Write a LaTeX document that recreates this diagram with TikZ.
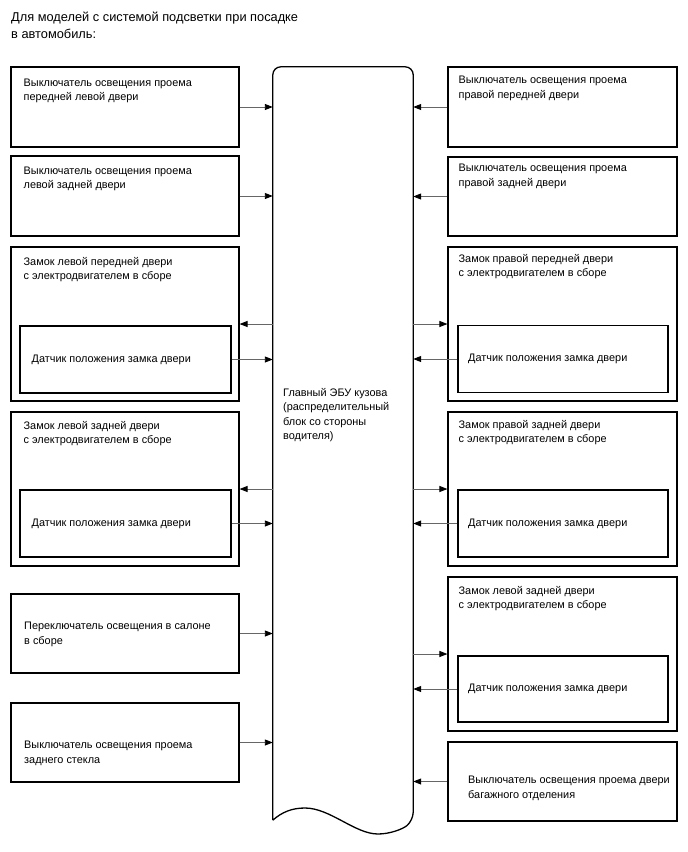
\documentclass[tikz,border=0pt]{standalone}
\usepackage{fontspec}
\setmainfont{Liberation Sans}
\usetikzlibrary{positioning, arrows.meta}

\begin{document}
\begin{tikzpicture}[
    x=1pt, y=-1pt,
    blk/.style={draw, line width=1.1pt, inner sep=0pt, minimum width=228pt},
    sens/.style={blk, minimum width=211pt, minimum height=67pt},
    txt/.style={inner sep=0pt, align=left, font=\fontsize{10.9}{14.5}\selectfont},
    eculine/.style={line width=1.3pt},
    arr/.style={draw=black!60, line width=0.9pt, -{Triangle[length=8pt, width=6pt, black]}},
  ]
    \useasboundingbox (0,0) rectangle (688,852);

    \node[txt, anchor=north west, font=\fontsize{12.8}{17}\selectfont] (title) at (11,12)
      {Для моделей с системой подсветки при посадке\\в автомобиль:};

    % ECU
    \node[minimum width=140pt, minimum height=753pt, inner sep=0pt] (ecu) at (343,443.5) {};
    \draw[eculine] (ecu.south west) [rounded corners=8pt] -- (ecu.north west) -- (ecu.north east)
      -- (ecu.south east) [sharp corners]
      .. controls (403,829) and (390,834) .. (378,834)
      .. controls (355,834) and (330,808) .. (305,808)
      .. controls (292,808) and (282,812) .. (ecu.south west);
    \node[txt, anchor=north west] (ecutxt) at (283,388)
      {Главный ЭБУ кузова\\(распределительный\\блок со стороны\\водителя)};

    % left column
    \node[blk, minimum height=80pt]  (l1)  at (125,107) {};
    \node[blk, minimum height=80pt]  (l2)  at (125,196) {};
    \node[blk, minimum height=154pt] (l3)  at (125,324) {};
    \node[sens]                      (l3s) at (125.5,359.5) {};
    \node[blk, minimum height=154pt] (l4)  at (125,489) {};
    \node[sens]                      (l4s) at (125.5,523.5) {};
    \node[blk, minimum height=79pt]  (l5)  at (125,633.5) {};
    \node[blk, minimum height=79pt]  (l6)  at (125,742.5) {};

    \node[txt, below right=12pt and 13pt of l1.north west] (l1t)
      {Выключатель освещения проема\\передней левой двери};
    \node[txt, below right=11pt and 13pt of l2.north west] (l2t)
      {Выключатель освещения проема\\левой задней двери};
    \node[txt, below right=10.5pt and 13pt of l3.north west] (l3t)
      {Замок левой передней двери\\с электродвигателем в сборе};
    \node[txt, right=12pt of l3s.west] (l3st) {Датчик положения замка двери};
    \node[txt, below right=9.5pt and 13pt of l4.north west] (l4t)
      {Замок левой задней двери\\с электродвигателем в сборе};
    \node[txt, right=12pt of l4s.west] (l4st) {Датчик положения замка двери};
    \node[txt, anchor=north west] (l5t) at (24,622)
      {Переключатель освещения в салоне\\в сборе};
    \node[txt, anchor=north west] (l6t) at (24,741)
      {Выключатель освещения проема\\заднего стекла};

    % right column
    \node[blk, minimum width=229pt, minimum height=80pt]  (r1)  at (562.5,107) {};
    \node[blk, minimum width=229pt, minimum height=79pt]  (r2)  at (562.5,196.5) {};
    \node[blk, minimum width=229pt, minimum height=154pt] (r3)  at (562.5,324) {};
    \node[sens, minimum width=210pt]                      (r3s) at (563,359) {};
    \node[blk, minimum width=229pt, minimum height=154pt] (r4)  at (562.5,489) {};
    \node[sens, minimum width=210pt]                      (r4s) at (563,523.5) {};
    \node[blk, minimum width=229pt, minimum height=154pt] (r5)  at (562.5,654) {};
    \node[sens, minimum width=210pt, minimum height=66pt] (r5s) at (563,689) {};
    \node[blk, minimum width=229pt, minimum height=79pt]  (r6)  at (562.5,781.5) {};

    \node[txt, below right=9.5pt and 11pt of r1.north west] (r1t)
      {Выключатель освещения проема\\правой передней двери};
    \node[txt, below right=7.5pt and 11pt of r2.north west] (r2t)
      {Выключатель освещения проема\\правой задней двери};
    \node[txt, below right=7.5pt and 11pt of r3.north west] (r3t)
      {Замок правой передней двери\\с электродвигателем в сборе};
    \node[txt, right=10.5pt of r3s.west] (r3st) {Датчик положения замка двери};
    \node[txt, below right=8.5pt and 11pt of r4.north west] (r4t)
      {Замок правой задней двери\\с электродвигателем в сборе};
    \node[txt, right=10.5pt of r4s.west] (r4st) {Датчик положения замка двери};
    \node[txt, below right=9.5pt and 11pt of r5.north west] (r5t)
      {Замок левой задней двери\\с электродвигателем в сборе};
    \node[txt, right=10.5pt of r5s.west] (r5st) {Датчик положения замка двери};
    \node[txt, anchor=north west] (r6t) at (468,776)
      {Выключатель освещения проема двери\\багажного отделения};

    % connections
    \draw[arr] (l1.east) -- (l1.east -| ecu.west);
    \draw[arr] (l2.east) -- (l2.east -| ecu.west);
    \draw[arr] (l3.east -| ecu.west) -- (l3.east);
    \draw[arr] (l3s.east) -- (l3s.east -| ecu.west);
    \draw[arr] (l4.east -| ecu.west) -- (l4.east);
    \draw[arr] (l4s.east) -- (l4s.east -| ecu.west);
    \draw[arr] (l5.east) -- (l5.east -| ecu.west);
    \draw[arr] (l6.east) -- (l6.east -| ecu.west);

    \draw[arr] (r1.west) -- (r1.west -| ecu.east);
    \draw[arr] (r2.west) -- (r2.west -| ecu.east);
    \draw[arr] (r3.west -| ecu.east) -- (r3.west);
    \draw[arr] (r3s.west) -- (r3s.west -| ecu.east);
    \draw[arr] (r4.west -| ecu.east) -- (r4.west);
    \draw[arr] (r4s.west) -- (r4s.west -| ecu.east);
    \draw[arr] (r5.west -| ecu.east) -- (r5.west);
    \draw[arr] (r5s.west) -- (r5s.west -| ecu.east);
    \draw[arr] (r6.west) -- (r6.west -| ecu.east);
  \end{tikzpicture}
\end{document}
